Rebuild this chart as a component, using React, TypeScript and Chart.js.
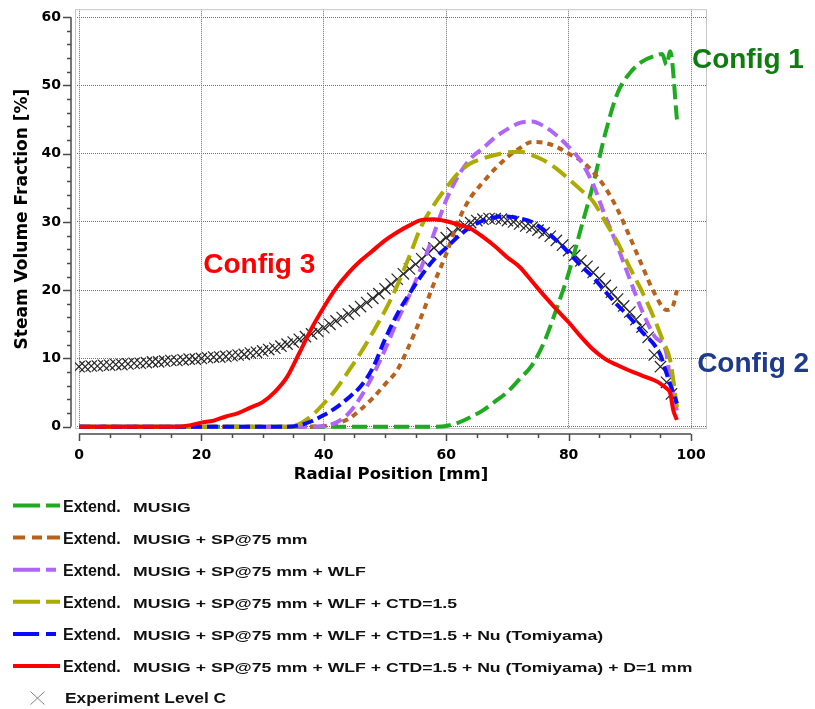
import React, { useEffect, useRef } from 'react';
import { Chart, registerables } from 'chart.js';

Chart.register(...registerables);

// ---- axis ticks ----
const xTickValues = [0, 20, 40, 60, 80, 100];
const yTickValues = [0, 10, 20, 30, 40, 50, 60];

// ---- series labels ----
const seriesLabels = [
  'Extend. MUSIG',
  'Extend. MUSIG + SP@75 mm',
  'Extend. MUSIG + SP@75 mm + WLF',
  'Extend. MUSIG + SP@75 mm + WLF + CTD=1.5',
  'Extend. MUSIG + SP@75 mm + WLF + CTD=1.5 + Nu (Tomiyama)',
  'Extend. MUSIG + SP@75 mm + WLF + CTD=1.5 + Nu (Tomiyama) + D=1 mm',
  'Experiment Level C',
];

// ---- Extend. MUSIG (Config 1) ----
const musigX = [0, 10, 20, 30, 40, 50, 58, 60, 62, 64, 66, 68, 70, 72, 74, 76, 78, 80, 82, 84, 86, 88, 90, 92, 94, 95.3, 96, 96.6, 97.7];
const musigY = [0, 0, 0, 0, 0, 0, 0, 0.1, 0.6, 1.4, 2.4, 3.7, 5.1, 7.0, 9.0, 12.4, 17.2, 22.5, 29, 35.5, 43, 48.9, 51.8, 53.5, 54.3, 54.6, 53, 55, 45];

// ---- + SP@75 mm ----
const spX = [0, 10, 20, 30, 36, 40, 42, 44, 46, 48, 50, 52, 54, 56, 58, 60, 62, 64, 66, 68, 70, 72, 74, 76, 78, 80, 82, 84, 86, 88, 90, 92, 94, 96, 97, 97.7];
const spY = [0, 0, 0, 0, 0, 0.1, 0.5, 1.1, 2.5, 4.2, 6.2, 8.3, 12.0, 16.3, 21.0, 25.3, 30.2, 33.6, 35.8, 37.8, 39.5, 40.8, 41.7, 41.6, 41, 40, 39, 37.3, 35, 31.8, 27.8, 23.6, 19.6, 17.1, 17.6, 20];

// ---- + WLF ----
const wlfX = [0, 10, 20, 30, 38, 40, 42, 44, 46, 48, 50, 52, 54, 56, 58, 60, 62, 64, 66, 68, 70, 72, 74, 76, 78, 80, 82, 84, 86, 88, 90, 92, 94, 96, 96.6, 97.7];
const wlfY = [0, 0, 0, 0, 0, 0.1, 0.6, 1.9, 4.3, 7.5, 11.3, 15.5, 19.3, 23.5, 28.3, 33.2, 36.8, 39.3, 40.8, 42.4, 43.6, 44.5, 44.7, 44, 42.7, 41, 38.9, 35.5, 30.8, 26.4, 21.6, 17, 13.3, 10.7, 6.8, 2.4];

// ---- + CTD=1.5 ----
const ctdX = [0, 10, 20, 30, 34, 36, 38, 40, 42, 44, 46, 48, 50, 52, 54, 56, 58, 60, 62, 64, 66, 68, 70, 72, 74, 76, 78, 80, 82, 84, 86, 88, 90, 92, 94, 95.4, 96.6, 97.7];
const ctdY = [0, 0, 0, 0, 0, 0.4, 1.6, 3.4, 5.5, 8.1, 10.8, 13.8, 17, 20.7, 25, 29.5, 32.5, 35, 37.2, 38.6, 39.3, 39.8, 40.2, 40.3, 39.8, 39, 37.8, 36.3, 34.7, 33, 30, 27, 23.3, 19.8, 15.8, 12.6, 9.7, 2.9];

// ---- + Nu (Tomiyama) (Config 2) ----
const nuX = [0, 10, 20, 30, 34, 36, 38, 40, 42, 44, 46, 48, 50, 52, 54, 56, 58, 60, 62, 64, 66, 68, 70, 72, 74, 76, 78, 80, 82, 84, 86, 88, 90, 92, 94, 95, 96, 97.7];
const nuY = [0, 0, 0, 0, 0, 0.2, 0.8, 1.7, 2.8, 4.2, 5.9, 8.6, 12.8, 16.5, 19.5, 22.2, 24.5, 26.2, 27.9, 29.3, 30.2, 30.7, 30.8, 30.5, 30, 28.8, 27.3, 25.5, 23.6, 21.9, 19.8, 17.8, 16, 13.9, 12, 10.5, 7.8, 3.4];

// ---- + D=1 mm (Config 3) ----
const d1X = [0, 10, 16, 18, 20, 22, 24, 26, 28, 30, 32, 34, 36, 38, 40, 42, 44, 46, 48, 50, 52, 54, 56, 58, 60, 62, 64, 66, 68, 70, 72, 74, 76, 78, 80, 82, 84, 86, 88, 90, 92, 94, 95, 96, 96.6, 97.1, 97.7];
const d1Y = [0, 0, 0, 0.2, 0.6, 0.9, 1.5, 2.0, 2.8, 3.6, 5.1, 7.3, 10.8, 14.4, 17.5, 20.3, 22.5, 24.3, 25.8, 27.3, 28.5, 29.5, 30.3, 30.4, 30.1, 29.6, 29, 27.8, 26.4, 24.8, 23.4, 21.3, 19.2, 17.2, 15.3, 13.2, 11.3, 9.9, 9, 8.2, 7.5, 6.8, 6.3, 5.6, 4.9, 2.4, 1];

// ---- Experiment Level C ----
const expX = [
  0, 1, 2, 3, 4, 5, 6, 7, 8, 9, 10, 11, 12, 13, 14, 15, 16, 17, 18, 19,
  20, 21, 22, 23, 24, 25, 26, 27, 28, 29, 30, 31, 32, 33, 34, 35, 36, 37, 38, 39,
  40, 41, 42, 43, 44, 45, 46, 47, 48, 49, 50, 51, 52, 53, 54, 55, 56, 57, 58, 59,
  60, 61, 62, 63, 64, 65, 66, 67, 68, 69, 70, 71, 72, 73, 74, 75, 76, 77, 78, 79,
  80, 81, 82, 83, 84, 85, 86, 87, 88, 89, 90, 91, 92, 93, 94, 95, 96, 96.8,
];
const expY = [
  8.8, 8.8, 8.9, 8.9, 9.0, 9.0, 9.1, 9.1, 9.2, 9.3, 9.3, 9.4, 9.5, 9.5, 9.6, 9.7, 9.7, 9.8, 9.9, 9.9,
  10.0, 10.1, 10.2, 10.2, 10.3, 10.4, 10.5, 10.6, 10.8, 10.9, 11.1, 11.3, 11.5, 11.8, 12.1, 12.4, 12.8, 13.2, 13.6, 14.0,
  14.5, 15.0, 15.5, 16.0, 16.5, 17.0, 17.6, 18.2, 18.8, 19.5, 20.2, 20.9, 21.6, 22.4, 23.1, 23.8, 24.6, 25.4, 26.2, 27.0,
  27.7, 28.4, 29.0, 29.5, 29.9, 30.2, 30.4, 30.5, 30.5, 30.4, 30.2, 30.0, 29.7, 29.4, 29.2, 28.8, 28.4, 27.9, 27.3, 26.6,
  25.8, 25.1, 24.3, 23.5, 22.6, 21.7, 20.7, 19.7, 18.7, 17.7, 16.8, 15.7, 14.6, 13.1, 10.5, 8.8, 6.5, 4.8,
];

// ---- annotations ----
const configNotes = [
  { text: 'Config 1', x: 100.15, y: 53.7, color: '#0f7c10' },
  { text: 'Config 2', x: 101.0, y: 9.2, color: '#1d3a8b' },
  { text: 'Config 3', x: 20.3, y: 23.6, color: '#ff0000' },
];

const pts = (xs: number[], ys: number[]) => xs.map((x, i) => ({ x, y: ys[i] }));

const TICK_FONT = { family: '"DejaVu Sans", Verdana, sans-serif', weight: 'bold' as const, size: 14 };
const TITLE_FONT = { family: '"DejaVu Sans", Verdana, sans-serif', weight: 'bold' as const, size: 16.5 };

function drawStretched(ctx: CanvasRenderingContext2D, text: string, x: number, y: number, font: string, sx: number) {
  ctx.save();
  ctx.font = font;
  ctx.textAlign = 'left';
  ctx.textBaseline = 'alphabetic';
  ctx.translate(x, y);
  ctx.scale(sx, 1);
  ctx.fillText(text, 0, 0);
  ctx.restore();
}

const framePlugin = {
  id: 'frame',
  beforeDatasetsDraw(chart: any) {
    const { ctx, chartArea } = chart;
    ctx.save();
    ctx.strokeStyle = '#c6c6c6';
    ctx.lineWidth = 1;
    ctx.strokeRect(chartArea.left + 0.5, chartArea.top + 0.5, chartArea.right - chartArea.left - 1, chartArea.bottom - chartArea.top - 1);
    ctx.restore();
  },
};

const axesPlugin = {
  id: 'offsetAxes',
  afterDraw(chart: any) {
    const { ctx, chartArea } = chart;
    const xs = chart.scales.x;
    const ys = chart.scales.y;
    ctx.save();
    ctx.strokeStyle = '#4a4a4a';
    ctx.lineWidth = 1.5;
    // x axis
    const ay = chartArea.bottom + 5;
    ctx.beginPath();
    ctx.moveTo(xs.getPixelForValue(xTickValues[0]), ay);
    ctx.lineTo(xs.getPixelForValue(xTickValues[xTickValues.length - 1]), ay);
    for (let v = xTickValues[0]; v <= xTickValues[xTickValues.length - 1]; v += 5) {
      const px = Math.round(xs.getPixelForValue(v)) + 0.5;
      const len = v % 20 === 0 ? 7 : 4;
      ctx.moveTo(px, ay);
      ctx.lineTo(px, ay + len);
    }
    ctx.stroke();
    // y axis
    const ax = chartArea.left - 4;
    ctx.beginPath();
    ctx.moveTo(ax, ys.getPixelForValue(yTickValues[0]));
    ctx.lineTo(ax, ys.getPixelForValue(yTickValues[yTickValues.length - 1]));
    for (let v = yTickValues[0]; v <= yTickValues[yTickValues.length - 1]; v += 2) {
      const py = Math.round(ys.getPixelForValue(v)) + 0.5;
      const len = v % 10 === 0 ? 8 : 4;
      ctx.moveTo(ax, py);
      ctx.lineTo(ax - len, py);
    }
    ctx.stroke();
    ctx.restore();
  },
};

const notesPlugin = {
  id: 'configNotes',
  afterDatasetsDraw(chart: any) {
    const { ctx } = chart;
    const xs = chart.scales.x;
    const ys = chart.scales.y;
    ctx.save();
    ctx.font = 'bold 28px "Liberation Sans", Arial, sans-serif';
    ctx.textAlign = 'left';
    ctx.textBaseline = 'middle';
    configNotes.forEach((n) => {
      ctx.fillStyle = n.color;
      ctx.fillText(n.text, xs.getPixelForValue(n.x), ys.getPixelForValue(n.y));
    });
    ctx.restore();
  },
};

const legendPlugin = {
  id: 'listLegend',
  afterDraw(chart: any) {
    const { ctx } = chart;
    const top = chart.chartArea.bottom + 76.5;
    const gap = 32.1;
    ctx.save();
    chart.data.datasets.forEach((ds: any, i: number) => {
      const yc = top + gap * i;
      ctx.fillStyle = '#111';
      if (ds.showLine === false) {
        ctx.strokeStyle = '#808080';
        ctx.lineWidth = 1;
        ctx.beginPath();
        ctx.moveTo(30.5, yc - 6.5);
        ctx.lineTo(44.5, yc + 6.5);
        ctx.moveTo(44.5, yc - 6.5);
        ctx.lineTo(30.5, yc + 6.5);
        ctx.stroke();
        drawStretched(ctx, ds.label, 65, yc + 5, 'bold 14px "Liberation Sans", Arial, sans-serif', 1.24);
      } else {
        ctx.strokeStyle = ds.borderColor;
        ctx.lineWidth = 4;
        ctx.lineCap = 'butt';
        ctx.setLineDash(ds.legendDash || []);
        ctx.beginPath();
        ctx.moveTo(13, yc);
        ctx.lineTo(60, yc);
        ctx.stroke();
        ctx.setLineDash([]);
        const parts = String(ds.label).split(' ');
        const head = parts.shift() || '';
        ctx.font = 'bold 16px "Liberation Sans", Arial, sans-serif';
        ctx.textAlign = 'left';
        ctx.textBaseline = 'alphabetic';
        ctx.fillText(head, 63, yc + 6);
        drawStretched(ctx, parts.join(' '), 133, yc + 6, 'bold 12px "Liberation Sans", Arial, sans-serif', 1.47);
      }
    });
    ctx.restore();
  },
};

const lineDs = (label: string, data: any[], color: string, dash: number[], legendDash: number[], order: number) => ({
  label,
  data,
  borderColor: color,
  backgroundColor: color,
  borderWidth: 4,
  borderDash: dash,
  borderCapStyle: 'butt',
  pointRadius: 0,
  pointHoverRadius: 0,
  fill: false,
  cubicInterpolationMode: 'monotone',
  legendDash,
  order,
});

export default function App() {
  const ref = useRef<HTMLCanvasElement | null>(null);

  useEffect(() => {
    if (!ref.current) return;
    const chart = new Chart(ref.current, {
      type: 'line',
      data: {
        datasets: [
          lineDs(seriesLabels[0], pts(musigX, musigY), '#1fab1f', [15, 6], [27, 6, 14, 60], 6),
          lineDs(seriesLabels[1], pts(spX, spY), '#b8621b', [6, 5], [12, 7, 10, 5, 13, 60], 5),
          lineDs(seriesLabels[2], pts(wlfX, wlfY), '#b064f8', [12, 6], [27, 6, 10, 60], 4),
          lineDs(seriesLabels[3], pts(ctdX, ctdY), '#acab00', [17, 7], [27, 6, 14, 60], 3),
          lineDs(seriesLabels[4], pts(nuX, nuY), '#0a0aff', [11, 5], [26, 7, 10, 60], 2),
          lineDs(seriesLabels[5], pts(d1X, d1Y), '#ff0000', [], [], 1),
          {
            label: seriesLabels[6],
            data: pts(expX, expY),
            showLine: false,
            pointStyle: 'crossRot',
            pointRadius: 8,
            pointHoverRadius: 8,
            borderColor: '#262626',
            backgroundColor: '#262626',
            pointBorderWidth: 1.2,
            borderWidth: 1.2,
            order: 10,
          } as any,
        ] as any,
      },
      options: {
        animation: false,
        responsive: false,
        maintainAspectRatio: false,
        devicePixelRatio: 1,
        events: [],
        layout: { padding: { left: 0, top: 7, right: 108, bottom: 220 } },
        plugins: {
          legend: { display: false },
          tooltip: { enabled: false },
        },
        scales: {
          x: {
            type: 'linear',
            min: -0.654,
            max: 102.61,
            afterBuildTicks: (s: any) => {
              s.ticks = xTickValues.map((v) => ({ value: v }));
            },
            afterFit: (s: any) => {
              s.height = 60;
              s.paddingLeft = 0;
              s.paddingRight = 0;
              s.paddingTop = 0;
              s.paddingBottom = 0;
            },
            grid: { color: '#707070', lineWidth: 1, drawTicks: false },
            border: { display: false, dash: [1, 1] },
            ticks: { color: '#000', font: TICK_FONT, padding: 18, maxRotation: 0, autoSkip: false },
            title: {
              display: true,
              text: 'Radial Position [mm]',
              color: '#000',
              font: TITLE_FONT,
              padding: { top: 0, bottom: 4 },
            },
          },
          y: {
            type: 'linear',
            min: -0.335,
            max: 61.166,
            afterBuildTicks: (s: any) => {
              s.ticks = yTickValues.map((v) => ({ value: v }));
            },
            afterFit: (s: any) => {
              s.width = 75;
              s.paddingLeft = 0;
              s.paddingRight = 0;
              s.paddingTop = 0;
              s.paddingBottom = 0;
            },
            grid: { color: '#707070', lineWidth: 1, drawTicks: false },
            border: { display: false, dash: [1, 1] },
            ticks: { color: '#000', font: TICK_FONT, padding: 14, autoSkip: false },
            title: {
              display: true,
              text: 'Steam Volume Fraction [%]',
              color: '#000',
              font: { ...TITLE_FONT, size: 17 },
              padding: { top: 12, bottom: 0 },
            },
          },
        },
      } as any,
      plugins: [framePlugin, axesPlugin, notesPlugin, legendPlugin],
    });
    return () => chart.destroy();
  }, []);

  return (
    <div style={{ position: 'absolute', left: 0, top: 0, width: 815, height: 709, background: '#fff' }}>
      <canvas ref={ref} width={815} height={709} style={{ display: 'block', width: 815, height: 709 }} />
    </div>
  );
}
